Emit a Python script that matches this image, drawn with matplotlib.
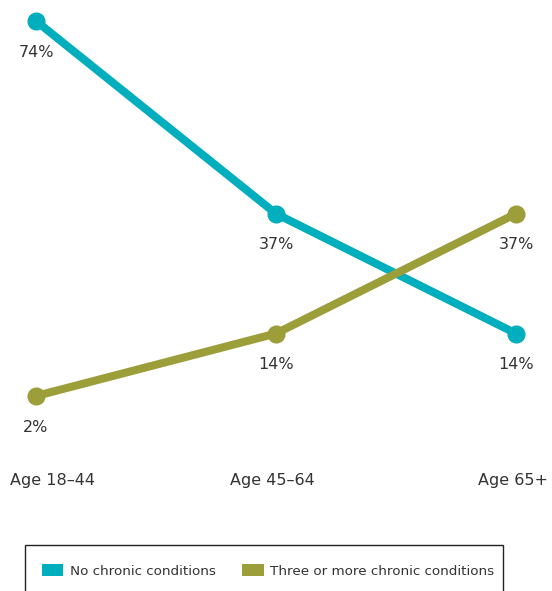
import matplotlib
matplotlib.use("Agg")
import matplotlib.pyplot as plt
from matplotlib.patches import Patch, Rectangle

# age groups and share of people in each group
categories = ["Age 18\u201344", "Age 45\u201364", "Age 65+"]
no_chronic = [74, 37, 14]
three_plus = [2, 14, 37]
series_names = ["No chronic conditions", "Three or more chronic conditions"]

TEAL = "#00AEBE"
OLIVE = "#9C9E3A"
TEXT = "#333333"

plt.rcParams["font.family"] = ["DejaVu Sans"]

W, H = 552, 591
fig = plt.figure(figsize=(W / 100, H / 100), dpi=100)
ax = fig.add_axes([36 / W, 195 / H, 480 / W, 375 / H])
ax.set_xlim(0, 2)
ax.set_ylim(2, 74)
ax.axis("off")

x = range(len(categories))
for vals, col in [(no_chronic, TEAL), (three_plus, OLIVE)]:
    ax.plot(x, vals, color=col, lw=5.8, marker="o", ms=12,
            solid_capstyle="round", clip_on=False, zorder=3)
    for xi, v in zip(x, vals):
        ax.annotate(f"{v}%", (xi, v), xytext=(0, -22.5), textcoords="offset points",
                    ha="center", va="center", fontsize=11.5, color=TEXT)

# category labels under the lowest point
aligns = [("left", -26), ("center", -4), ("right", 32)]
for xi, lab, (ha, dx) in zip(x, categories, aligns):
    ax.annotate(lab, (xi, 2), xytext=(dx * 0.72, -84 * 0.72), textcoords="offset points",
                ha=ha, va="center", fontsize=11.5, color=TEXT, annotation_clip=False)

# legend box, open at the bottom edge
fig.patches.append(Rectangle((25 / W, -0.05), 478 / W, 0.05 + 46 / H,
                             transform=fig.transFigure, fill=False,
                             edgecolor="#222222", lw=1))
handles = [Patch(facecolor=TEAL, edgecolor="none"), Patch(facecolor=OLIVE, edgecolor="none")]
fig.legend(handles, series_names, loc="center", bbox_to_anchor=(268 / W, 1 - 571 / H),
           ncol=2, frameon=False, fontsize=9.7, handlelength=1.6, handleheight=0.95,
           handletextpad=0.45, columnspacing=2.0, labelcolor=TEXT)

fig.savefig("out.png", dpi=100)
